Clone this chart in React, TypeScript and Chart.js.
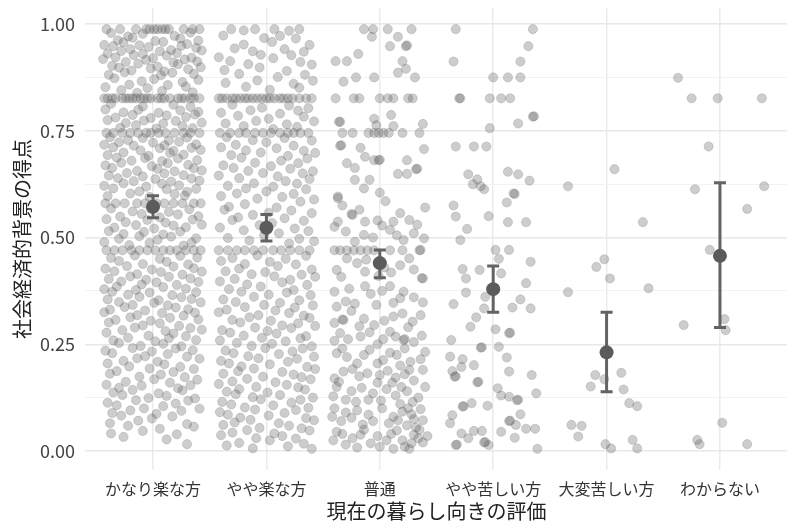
import React, { useEffect, useRef } from "react";
import { Chart, registerables } from "chart.js";

Chart.register(...registerables);

const categories = ["かなり楽な方", "やや楽な方", "普通", "やや苦しい方", "大変苦しい方", "わからない"];
const yTickValues = [0, 0.125, 0.25, 0.375, 0.5, 0.625, 0.75, 0.875, 1];
const yLabelValues = [0, 0.25, 0.5, 0.75, 1];
const yLabels = ["0.00", "0.25", "0.50", "0.75", "1.00"];
const xTitle = "現在の暮らし向きの評価";
const yTitle = "社会経済的背景の得点";

// Each list: pairs of (horizontal jitter in hundredths of a category, score in thousandths)
const cat1Points = [
  -41, 988, -29, 988, -15, 988, -6, 988, -3, 988, 1, 988, 4, 988, 8, 988, 11, 988, 14, 988, 27, 988, 35, 988, 41, 988,
  -37, 979, -22, 971, -9, 977, 19, 972, 33, 980,
  -31, 962, -18, 968, 2, 960, 24, 966, 40, 961,
  -43, 951, -26, 957, -12, 950, 9, 958, 30, 953,
  -35, 948, -20, 941, -4, 946, 16, 939, 38, 944, 25, 949,
  -40, 931, -28, 937, -9, 930, 6, 936, 21, 932, 43, 938,
  -33, 922, -17, 927, 0, 920, 12, 926, 34, 921,
  -44, 918, -24, 911, -6, 916, 18, 910, 28, 917, 39, 912,
  -36, 902, -13, 907, 4, 900, 22, 906,
  -30, 898, -19, 891, -2, 896, 10, 889, 31, 894, 42, 899,
  -39, 881, -25, 887, 7, 880, 17, 886, 36, 883,
  -34, 873, -10, 866, 1, 871, 26, 864, 40, 869,
  -42, 852, -21, 858, -5, 850, 13, 857, 29, 853,
  -28, 845, -14, 839, 8, 843, 35, 840,
  -43, 826, -40, 826, -36, 826, -33, 826, -27, 826, -24, 826, -21, 826, -18, 826, -15, 826, -11, 826, -8, 826, -5, 826,
  -2, 826, 4, 826, 7, 826, 10, 826, 15, 826, 22, 826, 25, 826, 28, 826, 33, 826, 36, 826, 41, 826,
  -37, 813, -9, 807, 18, 811, 33, 806,
  -42, 800, -26, 793, -13, 799, 5, 792, 24, 798, 40, 794,
  -33, 781, -18, 787, -2, 780, 12, 786, 29, 782, 37, 788,
  -40, 775, -24, 768, -8, 774, 9, 767, 20, 773, 43, 769,
  -29, 757, -15, 763, 3, 755, 26, 761, 35, 756,
  -41, 745, -35, 745, -27, 745, -20, 745, -13, 745, -6, 745, -2, 745, 5, 745, 11, 745, 19, 745, 27, 745, 33, 745, 41, 745,
  -38, 735, -22, 728, -9, 733, 14, 727, 30, 734,
  -43, 717, -30, 723, -17, 715, 0, 722, 10, 716, 23, 724, 38, 718,
  -35, 711, -11, 704, 6, 709, 18, 703, 34, 710, 42, 705,
  -40, 693, -26, 699, -4, 691, 15, 698, 27, 694,
  -32, 687, -19, 680, -7, 686, 8, 679, 22, 685, 39, 681,
  -42, 669, -28, 675, -1, 667, 13, 674, 31, 670,
  -36, 663, -14, 656, 4, 661, 19, 655, 36, 662, 43, 657,
  -39, 645, -23, 651, -9, 643, 10, 650, 27, 646,
  -31, 639, -17, 632, 2, 637, 16, 631, 34, 638, 41, 633,
  -43, 621, -26, 627, -6, 619, 8, 626, 23, 622,
  -35, 615, -12, 608, 12, 613, 30, 607, 38, 614,
  -40, 597, -20, 603, -3, 595, 19, 602, 28, 598,
  -42, 580, -33, 580, -25, 580, -14, 580, -7, 580, 3, 580, 10, 580, 18, 580, 26, 580, 36, 580, 42, 580,
  -37, 568, -18, 561, -2, 567, 14, 560, 32, 566,
  -29, 549, -10, 555, 6, 547, 22, 554, 40, 550,
  -41, 543, -24, 536, -5, 541, 11, 535, 35, 542,
  -34, 523, -15, 529, 1, 521, 18, 528, 29, 524, 43, 530,
  -39, 515, -26, 508, -8, 513, 9, 507, 24, 514,
  -30, 497, -12, 503, 4, 495, 16, 502, 38, 498,
  -43, 489, -21, 482, -3, 487, 27, 481, 34, 488,
  -41, 470, -34, 470, -27, 470, -19, 470, -12, 470, -5, 470, 2, 470, 9, 470, 15, 470, 21, 470, 29, 470, 36, 470, 42, 470,
  -37, 452, -16, 458, 6, 450, 24, 457, 39, 453,
  -30, 445, -9, 438, 12, 443, 31, 437,
  -42, 427, -23, 433, -1, 425, 18, 432, 36, 428,
  -34, 421, -14, 414, 7, 419, 26, 413, 43, 420,
  -39, 403, -20, 409, -6, 401, 14, 408, 33, 404,
  -28, 397, -10, 390, 3, 395, 21, 389, 40, 396,
  -43, 379, -32, 385, -15, 377, 9, 384, 29, 380,
  -36, 373, -22, 366, -3, 371, 17, 365, 38, 372,
  -40, 355, -12, 361, 5, 353, 25, 360, 34, 356,
  -30, 349, -18, 342, 1, 347, 13, 341, 42, 348,
  -38, 331, -25, 337, -7, 329, 20, 336, 31, 332,
  -43, 325, -14, 318, 8, 323, 27, 317, 37, 324,
  -33, 307, -20, 313, -2, 305, 15, 312, 40, 308,
  -39, 301, -9, 294, 6, 299, 23, 293,
  -27, 283, -16, 289, 11, 281, 33, 288, 43, 284,
  -41, 277, -4, 270, 18, 275, 29, 269,
  -35, 259, -22, 265, 2, 257, 14, 264, 38, 260,
  -30, 253, -11, 246, 9, 251, 25, 245,
  -42, 235, -18, 241, -1, 233, 20, 240, 35, 236,
  -36, 229, -7, 222, 13, 227, 30, 221,
  -26, 211, -14, 217, 4, 209, 41, 216,
  -40, 205, -21, 198, 10, 203, 24, 197,
  -32, 187, -3, 193, 18, 185, 36, 192,
  -38, 181, -12, 174, 7, 179, 28, 173,
  -24, 162, 1, 168, 15, 160, 39, 167,
  -41, 155, -30, 148, -10, 153, 22, 147, 33, 154,
  -35, 137, -18, 143, 5, 135, 26, 142,
  -27, 131, -4, 124, 12, 129, 37, 123,
  -40, 113, -15, 119, 20, 111, 31, 118,
  -32, 107, -8, 100, 9, 105, 41, 99,
  -36, 89, -20, 95, 3, 87, 25, 94,
  -28, 83, -1, 76, 17, 81,
  -38, 65, -13, 71, 30, 63,
  -22, 59, 6, 52, 36, 57,
  -37, 41, -9, 47, 21, 39,
  -26, 33, 12, 27,
  30, 16
];

const cat2Points = [
  -31, 988, -20, 985, -10, 988, 7, 988, 20, 984, 29, 988,
  -38, 973, -2, 967, 12, 972, 26, 966,
  -20, 952, 5, 958, 38, 951,
  -28, 943, -12, 936, 16, 941, 33, 935,
  -42, 922, -5, 928, 6, 920, 22, 927,
  -32, 913, -16, 906, 30, 911, 40, 905,
  -37, 892, -6, 898, 18, 890,
  -24, 883, 10, 876, 34, 881,
  -36, 862, -8, 868, 24, 860, 41, 867,
  -18, 853, 3, 846, 29, 851,
  -42, 826, -39, 826, -35, 826, -30, 826, -27, 826, -23, 826, -19, 826, -16, 826, -12, 826, -8, 826, -4, 826,
  0, 826, 3, 826, 7, 826, 12, 826, 15, 826, 19, 826, 23, 826, 29, 826, 35, 826, 40, 826,
  -30, 811, -4, 804, 20, 809, 37, 803,
  -40, 792, -14, 798, 12, 790, 28, 797,
  -25, 785, 2, 778, 33, 783,
  -36, 767, -9, 773, 18, 765, 42, 772,
  -20, 761, 6, 754, 27, 759,
  -41, 745, -32, 745, -24, 745, -18, 745, -10, 745, -3, 745, 4, 745, 12, 745, 19, 745, 24, 745, 30, 745, 37, 745,
  -35, 735, -12, 728, 16, 733, 40, 727,
  -27, 717, 0, 723, 24, 715,
  -40, 711, -18, 704, 9, 709, 33, 703,
  -31, 693, -5, 699, 19, 691, 43, 698,
  -22, 687, 13, 680, 36, 685,
  -38, 669, -10, 675, 4, 667, 28, 674,
  -29, 663, -16, 656, 21, 661, 41, 655,
  -42, 645, -3, 651, 10, 643, 32, 650,
  -24, 639, 17, 632, 38, 637,
  -34, 621, -11, 627, 6, 619, 27, 626,
  -18, 615, 0, 608, 35, 613,
  -40, 597, -26, 603, 14, 595, 24, 602,
  -8, 591, 30, 584, 42, 589,
  -33, 572, -19, 578, 9, 570,
  -37, 565, 2, 558, 22, 563, 40, 557,
  -25, 547, -12, 553, 16, 545,
  -30, 541, 5, 534, 33, 539,
  -41, 523, -6, 529, 25, 521,
  -20, 517, 11, 510, 37, 515,
  -34, 499, -2, 505, 29, 497,
  -15, 493, 20, 486, 42, 491,
  -42, 470, -34, 470, -26, 470, -19, 470, -11, 470, -3, 470, 6, 470, 13, 470, 21, 470, 29, 470, 38, 470,
  -30, 452, -8, 458, 17, 450, 35, 457,
  -40, 445, -19, 438, 3, 443, 26, 437,
  -24, 427, 10, 433, 40, 425,
  -36, 421, -13, 414, -1, 419, 31, 413,
  -28, 403, 7, 409, 21, 401, 43, 408,
  -41, 397, -17, 390, 14, 395, 36, 389,
  -33, 379, -5, 385, 24, 377,
  -22, 373, 2, 366, 18, 371, 39, 365,
  -38, 355, -11, 361, 29, 353,
  -27, 349, -2, 342, 12, 347, 41, 341,
  -35, 331, -19, 337, 8, 329, 25, 336,
  -42, 325, -7, 318, 20, 323, 33, 317,
  -30, 307, -15, 313, 4, 305, 38, 312,
  -23, 301, 14, 294, 28, 299, 43, 293,
  -39, 283, -10, 289, 1, 281, 22, 288,
  -32, 277, -20, 270, 9, 275, 35, 269,
  -41, 259, -4, 265, 17, 257, 30, 264,
  -26, 253, -13, 246, 5, 251, 40, 245,
  -36, 235, -1, 241, 23, 233, 32, 240,
  -29, 229, -16, 222, 11, 227, 42, 221,
  -40, 211, -7, 217, 19, 209, 27, 216,
  -33, 205, -22, 198, 3, 203, 36, 197,
  -25, 187, -11, 193, 14, 185, 43, 192,
  -38, 181, -3, 174, 24, 179, 31, 173,
  -30, 163, -17, 169, 8, 161, 39, 168,
  -42, 157, -9, 150, 18, 155, 28, 149,
  -35, 139, -24, 145, 1, 137, 34, 144,
  -27, 133, -12, 126, 12, 131, 41, 125,
  -39, 115, -5, 121, 22, 113, 30, 120,
  -31, 109, -19, 102, 6, 107, 37, 101,
  -41, 91, -10, 97, 16, 89, 26, 96,
  -34, 85, -23, 78, 2, 83, 35, 77,
  -28, 67, -14, 73, 11, 65, 42, 72,
  -38, 61, -6, 54, 20, 59, 31, 53,
  -30, 43, -17, 49, 7, 41, 38, 48,
  -40, 37, -9, 30, 14, 35, 26, 29,
  -24, 19, 3, 25, 33, 17,
  -35, 13, -12, 6, 19, 11, 40, 5
];

const cat3Points = [
  -14, 988, -6, 988, 7, 988, 28, 988,
  -7, 970, 16, 970, -19, 930, 9, 948, 23, 948, 24, 950,
  -39, 913, -29, 913, 20, 913,
  -32, 865, -21, 875, -5, 875, 16, 886, 23, 895, 31, 875,
  -39, 826, -23, 826, -18, 826, 0, 826, 7, 826, 12, 826, 25, 826, 29, 826,
  -35, 771, -36, 771, -5, 778, -3, 763, 10, 787, 12, 761, 38, 766,
  -33, 745, -24, 745, -10, 745, -5, 745, -1, 745, 3, 745, 8, 745, 20, 745, 35, 745,
  -35, 715, -34, 716, -17, 710, 39, 707,
  -29, 674, -22, 663, -13, 689, -5, 681, -1, 681, 0, 682, 24, 681, 32, 660, 33, 661,
  -22, 635, -9, 635, 16, 649, 24, 649, -14, 615, -37, 596, 0, 605,
  -37, 592, -24, 553, -25, 555, -37, 537, -13, 537, -2, 540, 12, 537, 18, 557, 26, 541, 33, 530,
  -33, 575, 5, 585, 40, 570, -18, 565,
  -30, 514, -14, 506, 9, 518, 21, 494, -6, 500, 30, 510,
  -40, 525, 2, 528, 39, 498, -22, 490, 15, 505,
  -40, 470, -35, 470, -29, 470, -23, 470, -17, 470, -11, 470, -5, 470, 9, 470, 20, 470, 35, 470, 36, 471,
  -29, 451, -12, 448, 26, 451, -38, 424, -13, 420, 10, 418, 38, 404, 37, 405, 4, 430,
  -20, 440, 18, 435, -1, 410, 30, 425, -34, 408,
  -40, 373, -13, 386, 9, 386, 21, 373, -30, 350, -3, 342, -22, 345, 12, 347, 30, 360,
  -27, 380, -8, 368, 2, 375, 38, 348, 18, 358, -38, 338,
  -32, 307, -33, 308, -14, 310, 4, 305, 20, 322, 29, 303, -5, 295,
  -25, 328, 12, 315, 36, 318, -40, 300, -18, 292, 25, 290,
  -35, 276, -17, 268, 9, 279, 21, 260, 22, 262, 37, 270, -2, 250,
  -28, 262, -9, 278, 14, 268, 30, 255, -40, 258, 3, 262,
  -38, 229, -29, 220, -9, 237, 3, 213, 15, 225, 27, 209, -20, 205, 36, 215,
  -33, 240, -14, 225, 9, 230, 22, 240, 40, 232, -2, 205, 18, 200,
  -32, 186, -11, 182, 7, 188, 22, 180, -40, 170, 30, 165, -2, 160,
  -24, 192, -18, 175, 0, 178, 14, 172, 38, 190, -36, 162, 26, 190, 11, 160,
  -38, 150, -25, 140, -16, 148, -6, 135, 6, 145, 14, 130, 24, 140, 34, 125, 40, 150, -30, 120,
  -41, 128, -10, 120, 19, 150, 29, 115, -21, 115, 1, 118,
  -40, 100, -30, 90, -20, 95, -10, 85, 2, 100, 12, 80, 20, 92, 28, 86, 36, 98, -34, 70, 8, 65,
  -25, 78, -6, 70, 16, 72, 38, 72, -42, 80, 25, 100, -15, 62,
  -38, 45, -24, 30, -14, 50, -2, 35, 10, 40, 20, 25, 30, 38, 38, 20, -30, 15, 0, 10, 26, 5, -20, 8,
  -41, 25, -33, 40, -8, 18, 6, 25, 15, 48, 35, 50, 42, 35, -17, 38, 22, 10, 12, 5,
  24, 60, 32, 55, 34, 30, 28, 18, 18, 110, 30, 75
];

const cat4Points = [
  -33, 988, 35, 988, 31, 948, -35, 912, 24, 912,
  0, 875, 13, 875, 24, 875,
  -30, 826, -29, 826, -3, 826, 7, 826, 15, 826,
  35, 783, 36, 784, 22, 767, -3, 756,
  -33, 713, -17, 713, -6, 713,
  -22, 648, -14, 636, -18, 625, -11, 620, -8, 613, 13, 654, 22, 648, 32, 633,
  18, 603, 19, 602, 12, 582, -35, 575, -33, 549, -4, 550, 13, 536, 29, 536,
  -23, 520, -29, 494, 2, 471, 14, 471, 5, 450, 33, 443,
  -27, 426, -12, 424, 7, 416, -24, 404, 29, 393,
  -24, 371, -7, 361, 24, 355, -35, 344, -8, 334, 17, 336, 33, 334,
  -15, 313, -20, 291, 2, 285, 14, 276, 15, 277, -37, 260,
  -11, 242, -10, 243, 5, 244, -38, 221, -27, 215, 12, 219,
  -17, 201, -36, 187, -28, 197, 14, 186, 34, 178, -34, 174, -33, 175,
  -14, 161, -13, 162, 4, 147, 7, 130, 14, 127, 21, 119, 22, 120, 38, 135,
  -19, 112, -27, 104, -26, 105, -5, 106, -36, 84, -38, 65, 24, 86,
  14, 70, 15, 71, 20, 61, 29, 52, 37, 52,
  -28, 41, -17, 47, -10, 47, 7, 45, -22, 30, 19, 31,
  -33, 14, -32, 15, -8, 20, -7, 21, -4, 14, 39, 5
];

const cat5Points = [
  -34, 620, 7, 660, 32, 536, -2, 449, -9, 431, 3, 404, 37, 381, -34, 372,
  -10, 178, 13, 183, -14, 151, -2, 168, 15, 144, 20, 112, 27, 105,
  -31, 61, -22, 59, -25, 34, -1, 16, 4, 6, 23, 26, 27, 6
];

const cat6Points = [
  -37, 874, -25, 826, -2, 826, 37, 826, -10, 713, -22, 613, 39, 620, 24, 567,
  -9, 471, 4, 309, 5, 283, -32, 295, 2, 66, -20, 26, -18, 16, 24, 16
];

const meanValues = [0.572, 0.523, 0.44, 0.379, 0.231, 0.457];
const lowerValues = [0.546, 0.492, 0.406, 0.325, 0.139, 0.289];
const upperValues = [0.598, 0.554, 0.471, 0.433, 0.325, 0.628];

const allCategoryPoints = [cat1Points, cat2Points, cat3Points, cat4Points, cat5Points, cat6Points];

const FONT = '"Noto Sans CJK JP", "Noto Sans", sans-serif';

const errorBarPlugin = {
  id: "errorBars",
  afterDatasetDraw(chart: any, args: any) {
    if (args.index !== 1) return;
    const { ctx } = chart;
    const x = chart.scales.x;
    const y = chart.scales.y;
    ctx.save();
    ctx.strokeStyle = "#636363";
    ctx.lineWidth = 3;
    meanValues.forEach((_m, i) => {
      const px = x.getPixelForValue(i + 1);
      const top = y.getPixelForValue(upperValues[i]);
      const bot = y.getPixelForValue(lowerValues[i]);
      ctx.beginPath();
      ctx.moveTo(px, top);
      ctx.lineTo(px, bot);
      ctx.moveTo(px - 6, top);
      ctx.lineTo(px + 6, top);
      ctx.moveTo(px - 6, bot);
      ctx.lineTo(px + 6, bot);
      ctx.stroke();
    });
    ctx.restore();
  },
};

export default function App() {
  const canvasRef = useRef<HTMLCanvasElement | null>(null);

  useEffect(() => {
    if (!canvasRef.current) return;
    const jitter: { x: number; y: number }[] = [];
    allCategoryPoints.forEach((arr, ci) => {
      for (let k = 0; k < arr.length; k += 2) {
        jitter.push({ x: ci + 1 + arr[k] / 100, y: arr[k + 1] / 1000 });
      }
    });
    const means = meanValues.map((m, i) => ({ x: i + 1, y: m }));

    const chart = new Chart(canvasRef.current, {
      type: "scatter",
      data: {
        datasets: [
          {
            label: "平均",
            data: means,
            pointRadius: 7,
            pointBackgroundColor: "#5b5b5b",
            pointBorderColor: "#5b5b5b",
            pointBorderWidth: 0,
          },
          {
            label: "回答",
            data: jitter,
            pointRadius: 4.6,
            pointBackgroundColor: "rgba(90,90,90,0.3)",
            pointBorderColor: "rgba(90,90,90,0.25)",
            pointBorderWidth: 0.8,
          },
        ],
      },
      options: {
        animation: false,
        responsive: false,
        devicePixelRatio: 1,
        events: [],
        layout: { padding: { top: 8, left: 0, right: 0, bottom: 0 } },
        plugins: { legend: { display: false }, tooltip: { enabled: false } },
        scales: {
          x: {
            type: "linear",
            min: 0.4,
            max: 6.6,
            afterBuildTicks: (scale: any) => {
              scale.ticks = categories.map((_c, i) => ({ value: i + 1 }));
            },
            afterFit: (scale: any) => {
              scale.height = 53;
              scale.paddingLeft = 0;
              scale.paddingRight = 0;
            },
            ticks: {
              autoSkip: false,
              maxRotation: 0,
              padding: 9,
              color: "#333",
              font: { family: FONT, size: 16 },
              callback: (v: any) => categories[Math.round(Number(v)) - 1] ?? "",
            },
            grid: { color: "#ebebeb", lineWidth: 1.5, drawTicks: false },
            border: { display: false },
            title: {
              display: true,
              text: xTitle,
              color: "#222",
              font: { family: FONT, size: 20 },
              padding: { top: 0, bottom: 0 },
            },
          },
          y: {
            type: "linear",
            min: -0.0445,
            max: 1.0375,
            afterBuildTicks: (scale: any) => {
              scale.ticks = yTickValues.map((v) => ({ value: v }));
            },
            afterFit: (scale: any) => {
              scale.width = 85;
              scale.paddingTop = 0;
              scale.paddingBottom = 0;
            },
            ticks: {
              autoSkip: false,
              padding: 10,
              color: "#444",
              font: { family: FONT, size: 18 },
              callback: (v: any) => {
                const idx = yLabelValues.findIndex((lv) => Math.abs(lv - Number(v)) < 1e-6);
                return idx >= 0 ? yLabels[idx] : "";
              },
            },
            grid: {
              drawTicks: false,
              color: (ctx: any) => {
                const v = ctx.tick ? ctx.tick.value : 0;
                return yLabelValues.some((lv) => Math.abs(lv - v) < 1e-6) ? "#e8e8e8" : "#f2f2f2";
              },
              lineWidth: (ctx: any) => {
                const v = ctx.tick ? ctx.tick.value : 0;
                return yLabelValues.some((lv) => Math.abs(lv - v) < 1e-6) ? 1.5 : 1;
              },
            },
            border: { display: false },
            title: {
              display: true,
              text: yTitle,
              color: "#222",
              font: { family: FONT, size: 20 },
              padding: { top: 10, bottom: 0 },
            },
          },
        },
      },
      plugins: [errorBarPlugin],
    });
    return () => chart.destroy();
  }, []);

  return (
    <div
      style={{
        position: "fixed",
        left: 0,
        top: 0,
        width: 787,
        height: 523,
        overflow: "hidden",
        background: "#fff",
      }}
    >
      <canvas ref={canvasRef} width={795} height={523} style={{ display: "block" }} />
    </div>
  );
}
